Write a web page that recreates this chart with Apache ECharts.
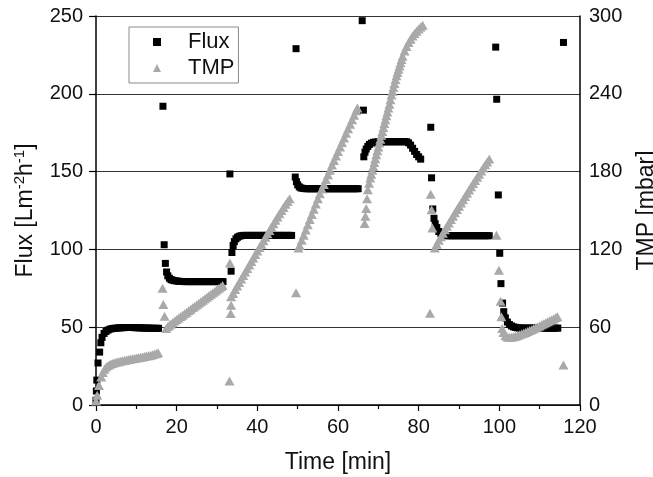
<!DOCTYPE html>
<html><head><meta charset="utf-8">
<script src="https://cdn.jsdelivr.net/npm/echarts@6/dist/echarts.min.js"></script>
<style>html,body{margin:0;padding:0;background:#fff}#c{width:653px;height:477px}</style>
</head><body><div id="c"></div><script>
// Time [min] ticks and axis ticks
const timeTicks = [0, 20, 40, 60, 80, 100, 120];
const fluxTicks = [0, 50, 100, 150, 200, 250];
const tmpTicks = [0, 60, 120, 180, 240, 300];

// Flux [L m-2 h-1] : [time, value]
const fluxData = [
  [0,3],[0.1,9],[0.2,16],[0.5,27],[0.9,34],[1.2,40],[1.5,43.5],[2,46],[2.5,47.3],[3,48.2],[3.5,48.8],[4,49.1],[4.5,49.3],[5,49.4],[5.5,49.5],[6,49.6],[6.5,49.7],[7,49.7],[7.5,49.8],[8,49.8],[8.5,49.8],[9,49.8],[9.5,49.7],[10,49.7],[10.5,49.6],[11,49.6],[11.5,49.5],[12,49.5],[12.5,49.4],[13,49.4],[13.5,49.4],[14,49.3],[14.5,49.3],[15,49.3],[15.5,49.3],
  [16.6,192],[16.9,103],
  [17.2,91],[17.5,85.5],[17.8,83],[18.2,81.5],[18.6,80.6],[19,80.2],[19.5,79.9],[20,79.7],[20.5,79.5],[21,79.4],[21.5,79.4],[22,79.3],[22.5,79.3],[23,79.3],[23.5,79.3],[24,79.3],[24.5,79.3],[25,79.3],[25.5,79.3],[26,79.3],[26.5,79.3],[27,79.3],[27.5,79.3],[28,79.3],[28.5,79.3],[29,79.3],[29.5,79.3],[30,79.3],[30.5,79.3],[31,79.3],[31.5,79.3],
  [33.2,148.5],
  [33.5,86],[33.7,98],[34,102.5],[34.3,105],[34.7,106.8],[35.1,107.8],[35.5,108.4],[36,108.8],[36.5,109],[37,109],[37.5,109],[38,109],[38.5,109],[39,109],[39.5,109],[40,109],[40.5,109],[41,109],[41.5,109],[42,109],[42.5,109],[43,109],[43.5,109],[44,109],[44.5,109],[45,109],[45.5,109],[46,109],[46.5,109],[47,109],[47.5,109],[48,109],[48.5,109],
  [49.6,229],
  [49.4,146.5],[49.7,143.5],[50,141.5],[50.4,140.2],[50.8,139.5],[51.3,139.2],[52,139],[52.5,139],[53,139],[53.5,139],[54,139],[54.5,139],[55,139],[55.5,139],[56,139],[56.5,139],[57,139],[57.5,139],[58,139],[58.5,139],[59,139],[59.5,139],[60,139],[60.5,139],[61,139],[61.5,139],[62,139],[62.5,139],[63,139],[63.5,139],[64,139],[64.5,139],[65,139],
  [66,247],[66.3,189.5],
  [66.4,159.5],[66.7,162.5],[67,164.5],[67.4,166.2],[67.8,167.5],[68.3,168.3],[68.8,168.8],[69.3,169],[70,169.2],[70.5,169.2],[71,169.2],[71.5,169.2],[72,169.2],[72.5,169.2],[73,169.2],[73.5,169.2],[74,169.2],[74.5,169.2],[75,169.2],[75.5,169.2],[76,169.2],[76.5,169.2],[77,169.2],[77.5,168.5],[78,167],[78.5,165],[79,163],[79.5,161],[80,159.5],[80.5,158],
  [83,178.5],[83.2,146],
  [83.5,126],[83.8,120],[84.1,116.5],[84.5,114],[85,111.5],[85.5,110.2],[86,109.5],[86.5,109],[87,108.8],[87.5,108.8],[88,108.8],[88.5,108.8],[89,108.8],[89.5,108.8],[90,108.8],[90.5,108.8],[91,108.8],[91.5,108.8],[92,108.8],[92.5,108.8],[93,108.8],[93.5,108.8],[94,108.8],[94.5,108.8],[95,108.8],[95.5,108.8],[96,108.8],[96.5,108.8],[97,108.8],[97.5,108.8],
  [99.1,230],[99.35,196.5],[99.75,135],[100.1,97.5],
  [100.4,78],[100.8,65.5],[101.1,60],[101.5,56],[102,53.3],[102.5,51.7],[103,50.8],[103.5,50.2],[104,49.9],[104.5,49.6],[105,49.5],[105.5,49.4],[106,49.4],[106.5,49.4],[107,49.4],[107.5,49.4],[108,49.4],[108.5,49.4],[109,49.4],[109.5,49.4],[110,49.4],[110.5,49.4],[111,49.4],[111.5,49.4],[112,49.4],[112.5,49.4],[113,49.4],[113.5,49.4],[114,49.4],[114.5,49.4],
  [115.9,233]
];

// TMP [mbar] : [time, value]
const tmpData = [
  [0,3],[0.3,7.5],[0.75,15],[1.3,21.5],[1.7,25],[2.1,27.5],[2.5,29.3],[3,30.5],[3.5,31.4],[4,32],[4.5,32.5],[5,33],[5.5,33.4],[6,33.8],[6.5,34.1],[7,34.4],[7.5,34.7],[8,35],[8.5,35.3],[9,35.6],[9.5,35.9],[10,36.2],[10.5,36.5],[11,36.8],[11.5,37.1],[12,37.4],[12.5,37.7],[13,38],[13.5,38.4],[14,38.8],[14.5,39.3],[15,39.8],[15.4,40.3],
  [16.5,90],[16.7,77.5],[17,68.5],
  [17.4,59],[17.8,60.5],[18.2,61.5],[18.6,62.5],[19,63.5],[19.5,64.7],[20,65.9],[20.5,67],[21,68.2],[21.5,69.3],[22,70.5],[22.5,71.6],[23,72.8],[23.5,73.9],[24,75.1],[24.5,76.2],[25,77.4],[25.5,78.5],[26,79.7],[26.5,80.8],[27,82],[27.5,83.1],[28,84.3],[28.5,85.4],[29,86.6],[29.5,87.7],[30,88.9],[30.5,90],[31,91.2],[31.4,92.2],
  [33.1,18.5],[33.2,109.5],[33.5,83.5],[33.5,77],[33.4,70.5],
  [34,86],[34.5,89],[35,91.8],[35.5,94.5],[36,97.2],[36.5,99.9],[37,102.6],[37.5,105.3],[38,108],[38.5,110.7],[39,113.4],[39.5,116],[40,118.7],[40.5,121.4],[41,124],[41.5,126.7],[42,129.3],[42.5,132],[43,134.6],[43.5,137.2],[44,139.8],[44.5,142.4],[45,145],[45.5,147.5],[46,150],[46.5,152.4],[47,154.8],[47.5,157],[48,159],
  [49.6,86.6],
  [50.2,121],[50.5,123],[51,127],[51.5,131],[52,135],[52.5,139],[53,143],[53.5,147],[54,151],[54.5,155],[55,159],[55.5,163],[56,166.5],[56.5,170],[57,174],[57.5,177.5],[58,181],[58.5,185],[59,188.5],[59.5,192],[60,195.5],[60.5,199],[61,202.5],[61.5,206],[62,209.5],[62.5,213],[63,216.5],[63.5,220],[64,223.5],[64.5,227],[64.8,229],
  [66.6,140],[66.8,145.5],[67,151.5],[67.2,159],[67.4,166],[67.7,171],[68,175],[68.25,178],[68.5,181],[68.75,184],[69,187],[69.25,190],[69.5,193],[69.75,196],[70,199],[70.25,202],[70.5,205],[70.75,208],[71,211],[71.25,214],[71.5,217],[71.75,220],[72,223],[72.25,226],[72.5,229],[72.75,232],[73,235.5],[73.25,239],[73.5,242],[73.75,245],[74,248],[74.25,251],[74.5,254],[74.75,256.5],[75,259],[75.25,261.5],[75.5,264],[75.75,266.5],[76,269],[76.5,273],[77,276.5],[77.5,279.5],[78,282],[78.5,284.5],[79,286.5],[79.5,288.3],[80,290],[80.5,291.5],[81,292.8],
  [82.8,70.7],[83,162.5],[83.2,150.5],[83.4,136.5],
  [84,121],[84.5,124],[85,127],[85.5,129.8],[86,132.5],[86.5,135.2],[87,137.8],[87.5,140.4],[88,143],[88.5,145.6],[89,148.2],[89.5,150.8],[90,153.3],[90.5,155.8],[91,158.3],[91.5,160.8],[92,163.3],[92.5,165.8],[93,168.3],[93.5,170.8],[94,173.2],[94.5,175.6],[95,178],[95.5,180.4],[96,182.8],[96.5,185.2],[97,187.5],[97.5,189.8],
  [99.3,131],[99.9,104],[100.3,80],[100.5,68],[100.7,59],
  [101,56],[101.5,53.5],[102,52.5],[102.5,52.2],[103,52.3],[103.5,52.6],[104,53],[104.5,53.5],[105,54.1],[105.5,54.7],[106,55.3],[106.5,56],[107,56.7],[107.5,57.4],[108,58.1],[108.5,58.8],[109,59.5],[109.5,60.2],[110,61],[110.5,61.8],[111,62.6],[111.5,63.4],[112,64.2],[112.5,65],[113,65.8],[113.5,66.6],[114,67.4],[114.4,68],
  [115.9,30.8]
];

const FONT = '"Liberation Sans", Arial, sans-serif';
const chart = echarts.init(document.getElementById('c'), null, {renderer: 'canvas'});
const step = a => a[1] - a[0];
chart.setOption({
  animation: false,
  backgroundColor: '#fff',
  textStyle: {fontFamily: FONT},
  grid: {left: 96, right: 73, top: 16, bottom: 72, containLabel: false, outerBoundsMode: 'none'},
  legend: {
    orient: 'vertical', left: 129, top: 27,
    padding: [4, 4, 4, 24],
    itemWidth: 8, itemHeight: 8, itemGap: 4,
    borderColor: '#8a8a8a', borderWidth: 1, backgroundColor: '#fff',
    textStyle: {fontSize: 22, fontFamily: FONT, color: '#111', lineHeight: 22, padding: [0, 0, 0, 22]},
    data: [{name: 'Flux', icon: 'rect'}, {name: 'TMP', icon: 'triangle'}]
  },
  xAxis: {
    type: 'value', min: timeTicks[0], max: timeTicks[timeTicks.length - 1], interval: step(timeTicks),
    name: 'Time [min]', nameLocation: 'middle', nameGap: 45,
    nameTextStyle: {fontSize: 23, color: '#111', fontFamily: FONT, lineHeight: 26},
    axisLine: {lineStyle: {color: '#000', width: 1.5}},
    axisTick: {show: true, inside: false, length: 6, lineStyle: {color: '#000', width: 1.2}},
    minorTick: {show: true, splitNumber: 2, length: 4, lineStyle: {color: '#000', width: 1.2}},
    axisLabel: {fontSize: 20, color: '#111', margin: 12, fontFamily: FONT},
    splitLine: {show: false}
  },
  yAxis: [{
    type: 'value', position: 'left', min: fluxTicks[0], max: fluxTicks[fluxTicks.length - 1], interval: step(fluxTicks),
    name: 'Flux [Lm{sup|-2}h{sup|-1}]', nameLocation: 'middle', nameRotate: 90, nameGap: 54,
    nameTextStyle: {fontSize: 23, color: '#111', fontFamily: FONT, lineHeight: 26,
      rich: {sup: {fontSize: 15, verticalAlign: 'top', lineHeight: 26, color: '#111', fontFamily: FONT}}},
    axisLine: {show: true, lineStyle: {color: '#000', width: 1.5}},
    axisTick: {show: true, inside: false, length: 7, lineStyle: {color: '#000', width: 1.2}},
    axisLabel: {fontSize: 20, color: '#111', margin: 13, fontFamily: FONT},
    splitLine: {show: true, lineStyle: {color: '#333', width: 1}}
  }, {
    type: 'value', position: 'right', min: tmpTicks[0], max: tmpTicks[tmpTicks.length - 1], interval: step(tmpTicks),
    name: 'TMP [mbar]', nameLocation: 'middle', nameRotate: 90, nameGap: 46,
    nameTextStyle: {fontSize: 23, color: '#111', fontFamily: FONT, lineHeight: 26},
    axisLine: {show: true, lineStyle: {color: '#000', width: 1.5}},
    axisTick: {show: false},
    axisLabel: {fontSize: 20, color: '#111', margin: 9, fontFamily: FONT},
    splitLine: {show: false}
  }],
  series: [{
    name: 'Flux', type: 'scatter', yAxisIndex: 0, symbol: 'rect', symbolSize: 7,
    itemStyle: {color: '#000', opacity: 1}, data: fluxData, z: 2
  }, {
    name: 'TMP', type: 'scatter', yAxisIndex: 1, symbol: 'triangle', symbolSize: [10, 9],
    itemStyle: {color: '#a9a9a9', opacity: 1}, data: tmpData, z: 3
  }]
});
</script></body></html>
